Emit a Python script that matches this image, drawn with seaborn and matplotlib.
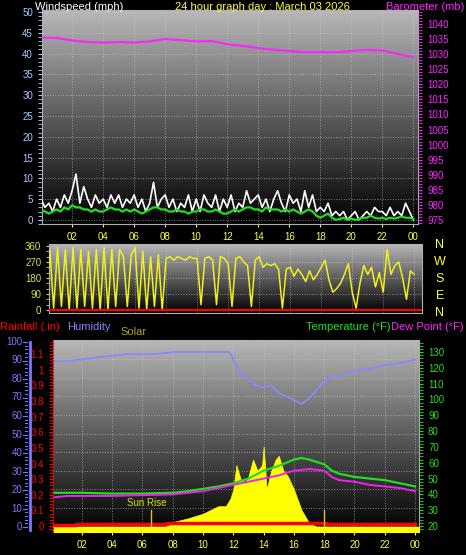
import numpy as np
import pandas as pd
import matplotlib
matplotlib.use("Agg")
import matplotlib.pyplot as plt
import seaborn as sns
from matplotlib.ticker import MultipleLocator

plt.rcParams["font.family"] = ["Liberation Sans", "DejaVu Sans"]

# ---------------- data ----------------
t_q = [i * 0.25 for i in range(97)]
wind_gust = [5,3,4,2, 5,3,6,4, 7,11,4,8, 5,3,6,4, 5,3,6,4, 6,3,5,4, 6,3,5,2, 4,9,3,5,
             6,3,5,2, 4,3,6,2, 5,2,6,4, 3,6,2,5, 3,6,2,4, 3,7,4,5, 6,3,5,2, 5,7,4,2,
             6,4,5,2, 7,3,6,2, 3,2,4,1, 2,1,2,0, 1,2,0,1, 2,1,3,2, 2,1,3,1, 2,1,4,2, 0]
wind_avg = [2.5,2,1.5,2, 2.5,2,3,2.5, 3.5,3,3,2.5, 2.5,2,2.5,2, 2,2.5,3,2.5, 2.5,2,2.5,2,
            2.5,2,1.5,2, 2.5,3,3,2.5, 2.5,2,2,2.5, 2,2,1.5,2, 2,2.5,2.5,2, 2,2.5,2,1.5,
            1.5,2,2.5,2, 2.5,3,3,2.5, 2.5,2,3,2.5, 2.5,2.5,2,2.5, 2,2.5,2,1.5, 2,2.5,2,1,
            0.5,1,1.5,0.5, 0,0.2,0.5,0, 0.3,0,0.2,0.5, 0.5,1,0.5,0.3, 0.5,0.2,0.5,0.3,
            0.5,0.8,0.5,0.5, 0.2]
wind_dir = [350,20,340,10, 350,20,340,0, 350,10,340,20, 330,10,340,0, 350,0,340,20,
            340,300,20,310, 350,10,330,0, 300,20,310,0, 290,300,280,300, 290,280,300,290,
            290,30,290,300, 280,30,300,290, 260,20,290,300, 270,250,20,280, 300,240,260,250,
            260,230,10,230, 240,190,230,200, 160,220,170,200, 240,280,170,100, 120,150,200,260,
            100,10,150,250, 200,240,130,210, 100,340,200,250, 270,180,60,220, 200]
t_h = list(range(25))
baro = [1035.5,1035.3,1034.5,1034,1033.8,1034,1033.8,1034.2,1035,1034.6,1034.2,1034.3,
        1033.3,1032.7,1032,1031.4,1031,1030.6,1030.6,1030.6,1031,1031.4,1031.2,1030,1029]

t_hum = [0,1,2,3,4,5,6,7,8,9,10,11,11.75,12.5,13,13.5,14,14.5,15,16,16.5,17,18,18.3,19,20,21,22,23,24]
humidity = [89,89,90,91,92,93,93,93,94,94,94,94,94,82,80,76,75,76,72,68,66,69,78,80,81,84,85,87,88,90]
t_temp = [0,2,4,6,8,9,10,11,12,13,14,15,16,16.5,17,18,18.5,19,20,21,22,23,24]
temperature = [41,41,40.5,40.5,41,42,43.5,45,47,50,55,58,62,63,62,59,55,53,51,50,49,47,45]
t_dew = [0,1,2,4,6,8,10,11,12,13,14,15,16,17,18,18.5,19,20,21,22,23,24]
dewpoint = [38,39,39,39,39.5,40,42,44,46,48,50,52,55,56,55,51,49,48,46,45,44,42]
t_sol = [0,7.5,8,9,10,10.5,11,11.5,11.8,12,12.2,12.5,12.8,13,13.3,13.6,13.9,14,14.2,14.5,
         14.8,15,15.3,15.6,16,16.5,17,17.5,24]
solar = [0,0,25,45,70,90,110,110,150,200,330,250,240,270,360,300,330,430,200,300,
         360,380,300,270,200,90,20,0,0]
t_rain = [0,1.5,1.6,7.5,7.6,18,18.1,24]
rain = [0.005,0.005,0.012,0.012,0.018,0.018,0.015,0.015]

hour_ticks = list(range(2, 25, 2))
hour_labels = ["02","04","06","08","10","12","14","16","18","20","22","00"]

# ---------------- figure ----------------
W, H = 466, 555
fig = plt.figure(figsize=(W/100, H/100), dpi=100, facecolor="black")

def frac(l, t, r, b):
    return [l/W, 1-b/H, (r-l)/W, (b-t)/H]

grad = np.linspace(0.72, 0.0, 256).reshape(-1, 1)

def style(ax):
    ax.set_facecolor("black")
    ax.imshow(grad, extent=[0, 1, 0, 1], transform=ax.transAxes, aspect="auto",
              cmap="gray", vmin=0, vmax=1, zorder=0, interpolation="bilinear")
    ax.grid(True, color="#c8c8c8", linestyle=":", linewidth=0.7, alpha=0.6)
    for s in ax.spines.values():
        s.set_color("#b0b0b0")

ylw = "#ffff33"
# ---- top panel ----
ax1 = fig.add_axes(frac(42, 10, 418, 224))
style(ax1)
sns.lineplot(x=t_q, y=wind_gust, ax=ax1, color="white", linewidth=1.2, zorder=3)
sns.lineplot(x=t_q, y=wind_avg, ax=ax1, color="#22dd22", linewidth=1.6, zorder=4)
ax1.set_xlim(0.06, 24.3); ax1.set_ylim(-1, 50.5)
ax1.yaxis.set_major_locator(MultipleLocator(5))
ax1.yaxis.set_minor_locator(MultipleLocator(1))
ax1.tick_params(axis="y", colors="#aaccff", labelsize=7, length=3, which="both")
ax1.set_xticks(hour_ticks); ax1.set_xticklabels(hour_labels)
ax1.tick_params(axis="x", colors=ylw, labelsize=7, length=2)
ax1.set_xlabel(""); ax1.set_ylabel("")
ax1b = ax1.twinx()
sns.lineplot(x=t_h, y=baro, ax=ax1b, color="#ff22ff", linewidth=1.5)
ax1b.set_ylim(973.7, 1044.6)
ax1b.yaxis.set_major_locator(MultipleLocator(5))
ax1b.yaxis.set_minor_locator(MultipleLocator(1))
ax1b.tick_params(axis="y", colors="#ff22ff", labelsize=7, length=3, which="both")
ax1b.set_ylabel("")
for s in ax1b.spines.values(): s.set_visible(False)

fig.text(35/W, 1-7/H, "Windspeed (mph)", color="white", fontsize=8, va="center")
fig.text(262/W, 1-7/H, "24 hour graph day : March 03 2026", color=ylw, fontsize=8, ha="center", va="center")
fig.text(464/W, 1-7/H, "Barometer (mb)", color="#ff22ff", fontsize=8, ha="right", va="center")

# ---- middle panel ----
ax2 = fig.add_axes(frac(49, 244, 422, 313))
style(ax2)
sns.lineplot(x=t_q, y=wind_dir, ax=ax2, color="#f0f020", linewidth=1.1, zorder=3)
ax2.axhline(0, color="red", linewidth=1.5, zorder=4)
ax2.set_xlim(0.45, 24.5); ax2.set_ylim(-17, 371)
ax2.set_yticks([0, 90, 180, 270, 360])
ax2.yaxis.set_minor_locator(MultipleLocator(30))
ax2.tick_params(axis="y", colors="#dddd44", labelsize=7, length=2, which="both")
ax2.set_xticks(hour_ticks)
ax2.tick_params(axis="x", length=0, labelbottom=False)
ax2.set_xlabel(""); ax2.set_ylabel("")
for i, c in enumerate("NWSEN"):
    fig.text(440/W, 1-(245+i*17)/H, c, color=ylw, fontsize=9, ha="center", va="center")

# ---- bottom panel ----
ax3 = fig.add_axes(frac(53, 340, 419, 532))
style(ax3)
ax3.set_xlim(0.09, 24.26)
ax3.set_ylim(-3.2, 100.5)  # humidity scale
ax3.yaxis.set_major_locator(MultipleLocator(10))
ax3.tick_params(axis="y", colors="#7777ff", labelsize=7, length=0, pad=22)
ax3.spines["left"].set_visible(False)
ax3.set_xticks(hour_ticks); ax3.set_xticklabels(hour_labels)
ax3.tick_params(axis="x", colors=ylw, labelsize=7, length=2)

axs = ax3.twinx()
axs.fill_between(t_sol, solar, color="#ffff00", zorder=2, linewidth=0.5)
axs.set_ylim(-28, 1000)
axs.axis("off")
axh = ax3.twinx()
sns.lineplot(x=t_hum, y=humidity, ax=axh, color="#8888ff", linewidth=1.3)
axh.set_ylim(-3.2, 100.5); axh.axis("off")
axt = ax3.twinx()
sns.lineplot(x=t_temp, y=temperature, ax=axt, color="#22dd22", linewidth=1.6)
sns.lineplot(x=t_dew, y=dewpoint, ax=axt, color="#ee22ee", linewidth=1.4)
axt.set_ylim(16.2, 137.6)
axt.yaxis.set_major_locator(MultipleLocator(10))
axt.yaxis.set_minor_locator(MultipleLocator(2))
axt.tick_params(axis="y", colors="#22dd22", labelsize=7, length=3, which="both")
axt.set_ylabel("")
for s in axt.spines.values(): s.set_visible(False)
axr = ax3.twinx()
sns.lineplot(x=t_rain, y=rain, ax=axr, color="red", linewidth=2.5, drawstyle="steps-post")
axr.fill_between([0, 24.3], -0.04, -0.005, color="#ffff00", zorder=1)
axr.set_ylim(-0.038, 1.19)
axr.spines["left"].set_visible(True)
axr.spines["left"].set_position(("data", 0.09))
axr.spines["left"].set_color("red")
axr.spines["left"].set_linestyle(":")
axr.yaxis.set_label_position("left"); axr.yaxis.tick_left()
axr.yaxis.set_minor_locator(MultipleLocator(0.02))
axr.set_yticks(np.round(np.arange(0, 1.11, 0.1), 1))
axr.set_yticklabels(["0"] + [f"{v:g}" for v in np.round(np.arange(0.1, 1.11, 0.1), 1)])
axr.tick_params(axis="y", colors="red", labelsize=7, length=3, which="both")
axr.set_ylabel("")
for k in ["right", "top", "bottom"]: axr.spines[k].set_visible(False)
axr.plot([6.55, 6.55], [0, 0.1], color="#cccc22", linewidth=1)
axr.plot([18, 18], [0, 0.1], color="#cccc22", linewidth=1)
axr.text(6.3, 0.145, "Sun Rise", color="#dddd22", fontsize=7, ha="center", va="center")
fig.add_artist(plt.Line2D([30/W, 30/W], [1-342/H, 1-530/H], color="#7777ff", linewidth=2))
for v in range(0, 101, 2):
    yy = 527 - v * 1.85
    ln = 4 if v % 10 == 0 else 2
    fig.add_artist(plt.Line2D([(27-ln)/W, 27/W], [1-yy/H, 1-yy/H], color="#7777ff", linewidth=0.8))

fig.text(0/W, 1-327/H, "Rainfall (.in)", color="red", fontsize=8, va="center")
fig.text(67/W, 1-327/H, "Humidity", color="#8888ff", fontsize=8, va="center")
fig.text(120/W, 1-332/H, "Solar", color="#aaaa22", fontsize=8, va="center")
fig.text(391/W, 1-327/H, "Temperature (°F)", color="#22dd22", fontsize=8, ha="right", va="center")
fig.text(464/W, 1-327/H, "Dew Point (°F)", color="#ff22ff", fontsize=8, ha="right", va="center")

fig.savefig("out.png", dpi=100, facecolor="black")
